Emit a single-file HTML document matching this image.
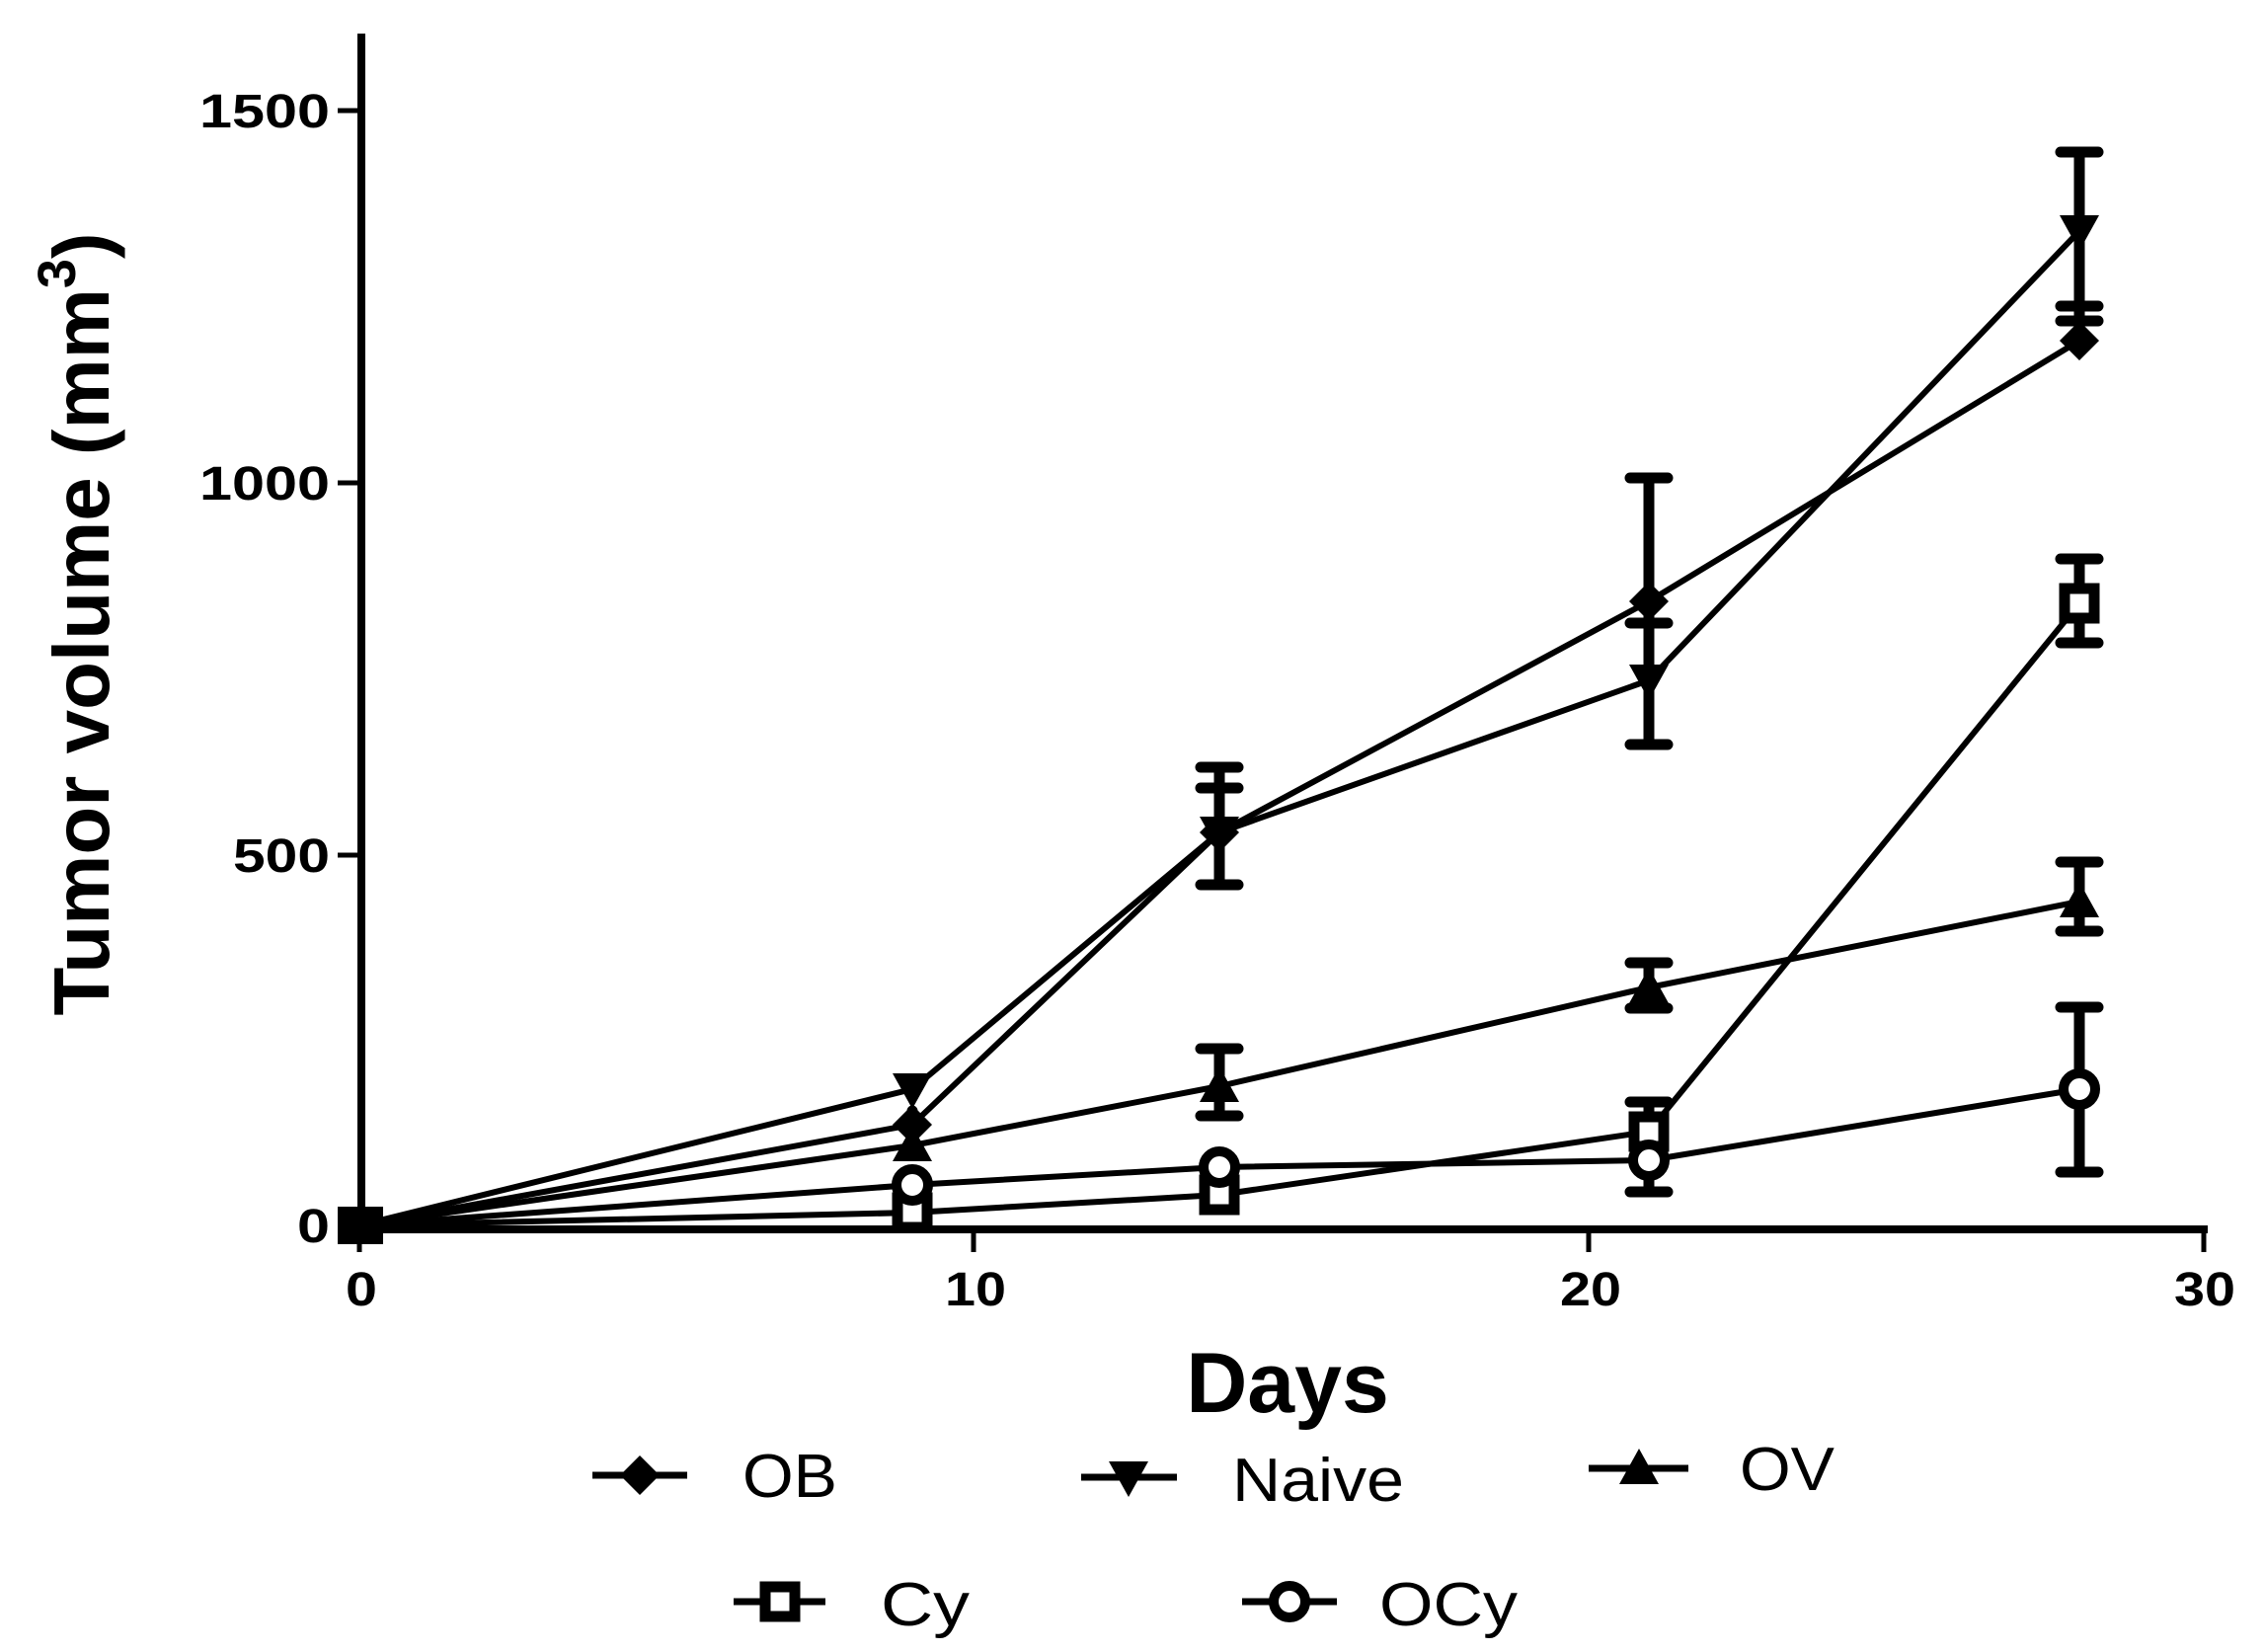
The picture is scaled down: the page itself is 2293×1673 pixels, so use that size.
<!DOCTYPE html>
<html><head><meta charset="utf-8"><style>
html,body{margin:0;padding:0;background:#fff;}
svg{display:block;}
text{font-family:"Liberation Sans",Arial,sans-serif;fill:#000;}
</style></head><body>
<svg width="2293" height="1673" viewBox="0 0 2293 1673" xmlns="http://www.w3.org/2000/svg">
<defs>
<g id="dia"><polygon points="0,-20 20,0 0,20 -20,0" fill="#000"/></g>
<g id="dn"><polygon points="-20,-16 20,-16 0,20" fill="#000"/></g>
<g id="up"><polygon points="-20,16 20,16 0,-20" fill="#000"/></g>
<g id="sq"><rect x="-15" y="-15" width="30" height="30" fill="#fff" stroke="#000" stroke-width="11"/></g>
<g id="ci"><circle r="16" fill="#fff" stroke="#000" stroke-width="10"/></g>
</defs>
<g stroke="#000" fill="none">
<line x1="366" y1="34" x2="366" y2="1249" stroke-width="8"/>
<line x1="362" y1="1245" x2="2236" y2="1245" stroke-width="8"/>
<g stroke-width="5">
<line x1="342" y1="112" x2="366" y2="112"/>
<line x1="342" y1="489" x2="366" y2="489"/>
<line x1="342" y1="866" x2="366" y2="866"/>
<line x1="342" y1="1241" x2="366" y2="1241"/>
<line x1="364" y1="1245" x2="364" y2="1268"/>
<line x1="986" y1="1245" x2="986" y2="1268"/>
<line x1="1609" y1="1245" x2="1609" y2="1268"/>
<line x1="2232" y1="1245" x2="2232" y2="1268"/>
</g>
</g>
<g font-weight="bold" font-size="48" text-anchor="end" lengthAdjust="spacingAndGlyphs">
<text x="334" y="129" textLength="132" lengthAdjust="spacingAndGlyphs">1500</text>
<text x="334" y="506" textLength="132" lengthAdjust="spacingAndGlyphs">1000</text>
<text x="334" y="883" textLength="98" lengthAdjust="spacingAndGlyphs">500</text>
<text x="334" y="1258" textLength="33" lengthAdjust="spacingAndGlyphs">0</text>
</g>
<g font-weight="bold" font-size="48" text-anchor="middle">
<text x="366" y="1322" textLength="32" lengthAdjust="spacingAndGlyphs">0</text>
<text x="988" y="1322" textLength="62" lengthAdjust="spacingAndGlyphs">10</text>
<text x="1611" y="1322" textLength="62" lengthAdjust="spacingAndGlyphs">20</text>
<text x="2233" y="1322" textLength="62" lengthAdjust="spacingAndGlyphs">30</text>
</g>
<text x="1304" y="1430" font-weight="bold" font-size="86" text-anchor="middle">Days</text>
<text transform="translate(110,632) rotate(-90)" font-weight="bold" font-size="80" text-anchor="middle">Tumor volume (mm<tspan font-size="54" dy="-34">3</tspan><tspan dy="34">)</tspan></text>

<g stroke="#000" stroke-width="6" fill="none" stroke-linejoin="round">
<polyline points="364,1241 924,1139 1235,843 1670,609 2106,345"/>
<polyline points="364,1241 924,1103 1235,843 1670,689 2106,234"/>
<polyline points="364,1241 924,1160 1235,1100 1670,1000 2106,913"/>
<polyline points="364,1241 924,1228 1235,1210 1670,1146 2106,611"/>
<polyline points="364,1241 924,1200 1235,1182 1670,1175 2106,1103"/>
</g>
<g stroke="#000" stroke-width="11" stroke-linecap="round" fill="none">
<path d="M1235,777V896 M1216,777H1254 M1216,798H1254 M1216,896H1254"/>
<path d="M1235,1062V1130 M1216,1062H1254 M1216,1130H1254"/>
<path d="M1670,484V754 M1651,484H1689 M1651,631H1689 M1651,754H1689"/>
<path d="M1670,975V1021 M1651,975H1689 M1651,1021H1689"/>
<path d="M1670,1116V1207 M1651,1116H1689 M1651,1207H1689"/>
<path d="M2106,154V325 M2087,154H2125 M2087,310H2125 M2087,325H2125"/>
<path d="M2106,566V651 M2087,566H2125 M2087,651H2125"/>
<path d="M2106,873V943 M2087,873H2125 M2087,943H2125"/>
<path d="M2106,1020V1187 M2087,1020H2125 M2087,1187H2125"/>
<path d="M924,1125V1150"/>
</g>
<use href="#dia" x="924" y="1139"/><use href="#dia" x="1235" y="843"/><use href="#dia" x="1670" y="609"/><use href="#dia" x="2106" y="345"/>
<use href="#dn" x="924" y="1103"/><use href="#dn" x="1235" y="843"/><use href="#dn" x="1670" y="689"/><use href="#dn" x="2106" y="234"/>
<use href="#up" x="924" y="1160"/><use href="#up" x="1235" y="1100"/><use href="#up" x="1670" y="1000"/><use href="#up" x="2106" y="913"/>
<use href="#sq" x="924" y="1228"/><use href="#sq" x="1235" y="1210"/><use href="#sq" x="1670" y="1146"/><use href="#sq" x="2106" y="611"/>
<use href="#ci" x="924" y="1200"/><use href="#ci" x="1235" y="1182"/><use href="#ci" x="1670" y="1175"/><use href="#ci" x="2106" y="1103"/>
<rect x="342" y="1222" width="46" height="38" fill="#000"/>

<g stroke="#000" stroke-width="7">
<line x1="600" y1="1494" x2="696" y2="1494"/>
<line x1="1095" y1="1496" x2="1192" y2="1496"/>
<line x1="1609" y1="1487" x2="1710" y2="1487"/>
<line x1="743" y1="1622" x2="836" y2="1622"/>
<line x1="1258" y1="1622" x2="1354" y2="1622"/>
</g>
<use href="#dia" x="648" y="1494"/>
<use href="#dn" x="1143" y="1496"/>
<use href="#up" x="1660" y="1487"/>
<use href="#sq" x="790" y="1622"/>
<use href="#ci" x="1306" y="1622"/>
<g font-size="62">
<text x="752" y="1516" textLength="96" lengthAdjust="spacingAndGlyphs">OB</text>
<text x="1248" y="1520" textLength="174" lengthAdjust="spacingAndGlyphs">Naive</text>
<text x="1762" y="1509" textLength="96" lengthAdjust="spacingAndGlyphs">OV</text>
<text x="892" y="1646" textLength="90" lengthAdjust="spacingAndGlyphs">Cy</text>
<text x="1397" y="1646" textLength="140" lengthAdjust="spacingAndGlyphs">OCy</text>
</g>
</svg>
</body></html>
